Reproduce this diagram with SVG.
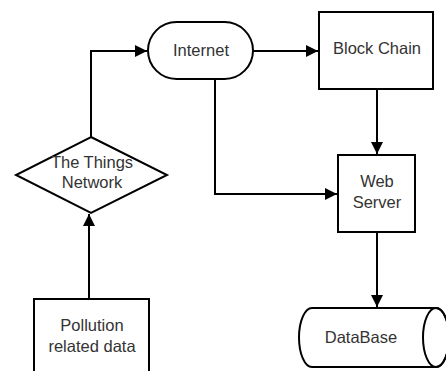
<svg xmlns="http://www.w3.org/2000/svg" width="446" height="371" viewBox="0 0 446 371">
<style>
.s{fill:#fff;stroke:#000;stroke-width:2}
.c{fill:none;stroke:#000;stroke-width:2}
text{font-family:"Liberation Sans",Arial,sans-serif;font-size:16.5px;fill:#333;text-anchor:middle}
</style>
<defs>
<marker id="a" viewBox="0 0 12 12" refX="12" refY="6" markerWidth="12" markerHeight="12" markerUnits="userSpaceOnUse" orient="auto">
<path d="M0,0 L12,6 L0,12 Z" fill="#000"/>
</marker>
</defs>
<rect width="446" height="371" fill="#fff"/>
<g id="connectors">
<path class="c" d="M91,137 V51 H147" marker-end="url(#a)"/>
<path class="c" d="M253,51 H318" marker-end="url(#a)"/>
<path class="c" d="M377,89 V154" marker-end="url(#a)"/>
<path class="c" d="M215,79 V194 H337" marker-end="url(#a)"/>
<path class="c" d="M377,232 V307" marker-end="url(#a)"/>
<path class="c" d="M89,299 V214" marker-end="url(#a)"/>
</g>
<g id="internet">
<rect class="s" x="148" y="22" width="105" height="57" rx="28.5"/>
<text x="201" y="56">Internet</text>
</g>
<g id="blockchain">
<rect class="s" x="319" y="12" width="114" height="77"/>
<text x="377" y="54">Block Chain</text>
</g>
<g id="ttn">
<polygon class="s" points="91,137 167,175 91,213 16,175"/>
<text x="92" y="168">The Things</text>
<text x="92" y="188">Network</text>
</g>
<g id="webserver">
<rect class="s" x="338" y="155" width="77" height="77"/>
<text x="377" y="187">Web</text>
<text x="377" y="208">Server</text>
</g>
<g id="pollution">
<rect class="s" x="34" y="299" width="115" height="80"/>
<text x="92" y="331">Pollution</text>
<text x="92" y="352">related data</text>
</g>
<g id="database">
<path class="s" d="M312,308 H436 A13,29.5 0 0 1 436,367 H312 A13,29.5 0 0 1 312,308 Z"/>
<ellipse class="c" cx="436" cy="337.5" rx="13" ry="29.5"/>
<text x="361" y="343">DataBase</text>
</g>
</svg>
